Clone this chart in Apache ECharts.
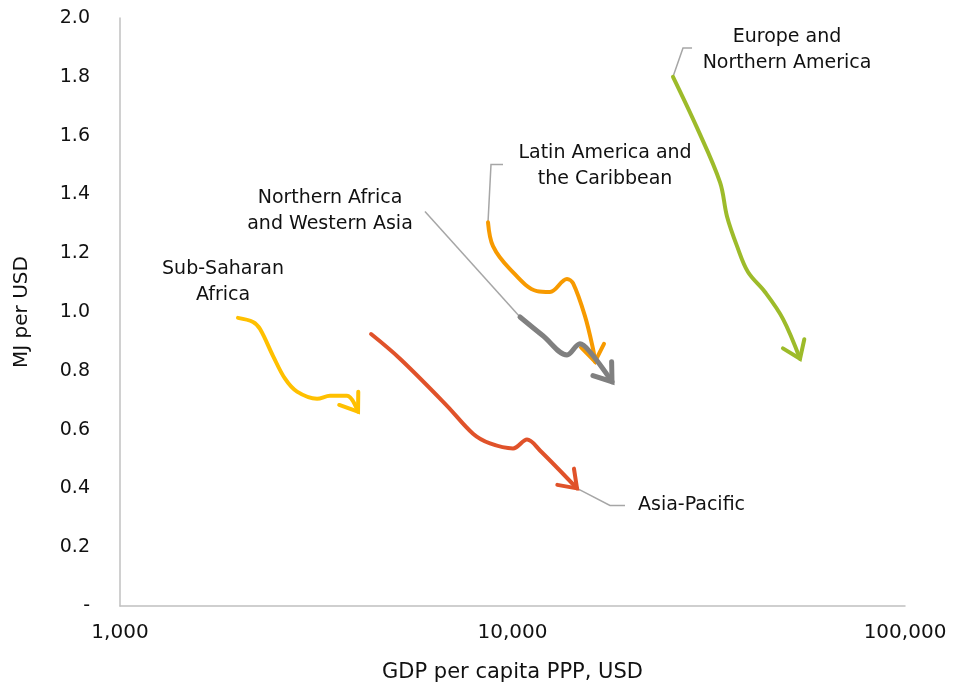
<!DOCTYPE html>
<html>
<head>
<meta charset="utf-8">
<script src="https://cdn.jsdelivr.net/npm/echarts@6/dist/echarts.min.js"></script>
<style>
html,body{margin:0;padding:0;background:#fff;}
#chart{width:960px;height:688px;}
</style>
</head>
<body>
<div id="chart"></div>
<script>
// ---- Data (GDP per capita PPP, USD  vs  MJ per USD) ----
const ssaGdp = [1998, 2182, 2274, 2453, 2633, 2825, 3177, 3428, 3787, 4041];
const ssaMj  = [0.980, 0.966, 0.942, 0.851, 0.773, 0.729, 0.705, 0.715, 0.715, 0.661];

const apGdp = [4362, 5169, 6810, 7933, 8764, 10030, 10888, 11750, 14600];
const apMj  = [0.925, 0.841, 0.681, 0.586, 0.553, 0.536, 0.566, 0.529, 0.400];

const laGdp = [8662, 8919, 9854, 11543, 12459, 13769, 14262, 15298, 16036, 16227];
const laMj  = [1.305, 1.224, 1.146, 1.071, 1.068, 1.112, 1.098, 0.986, 0.875, 0.831];

const nawaGdp = [10450, 11960, 13769, 14858, 15756, 17925];
const nawaMj  = [0.983, 0.919, 0.854, 0.892, 0.864, 0.763];

const enaGdp = [25640, 29512, 33790, 35200, 37330, 39810, 43980, 48900, 54020];
const enaMj  = [1.800, 1.627, 1.441, 1.325, 1.224, 1.136, 1.068, 0.976, 0.841];

const regionNames = ['Sub-Saharan Africa', 'Asia-Pacific', 'Latin America and the Caribbean',
  'Northern Africa and Western Asia', 'Europe and Northern America'];

const yTicks = [0, 0.2, 0.4, 0.6, 0.8, 1.0, 1.2, 1.4, 1.6, 1.8, 2.0];
const xTicks = [1000, 10000, 100000];

// Annotation labels (text + anchor in data units)
const labelTexts = ['Sub-Saharan\nAfrica', 'Asia-Pacific', 'Latin America and\nthe Caribbean',
  'Northern Africa\nand Western Asia', 'Europe and\nNorthern America'];
const labelGdp = [1830, 20880, 17210, 3428, 50050];
const labelMj  = [1.102, 0.342, 1.495, 1.342, 1.891];

// Leader line elbow points (data units), joined to curve start / end
const leaderAP   = {gdp: [17714, 19350], mj: [0.342, 0.342]};
const leaderLA   = {gdp: [8815, 9459], mj: [1.502, 1.502]};
const leaderNAWA = {gdp: [5984], mj: [1.342]};
const leaderENA  = {gdp: [27190, 28670], mj: [1.898, 1.898]};

const FONT = '"DejaVu Sans", sans-serif';
const TXT = '#111111';
const colors = ['#FFC000', '#E0522A', '#F79A00', '#808080', '#9DBB2A'];
const widths = [4, 4, 4, 5, 4];

function zip(xs, ys) { return xs.map((x, i) => [x, ys[i]]); }

function lineSeries(name, xs, ys, color, w) {
  return {
    name: name, type: 'line', data: zip(xs, ys), smooth: 0.35, showSymbol: false,
    symbol: 'none', lineStyle: {color: color, width: w, cap: 'round', join: 'round'}, z: 3, silent: true
  };
}

function arrowSeries(xs, ys, color, w) {
  const n = xs.length;
  return {
    type: 'custom', silent: true, z: 3,
    data: [[xs[n - 2], ys[n - 2], xs[n - 1], ys[n - 1]]],
    encode: {x: [0, 2], y: [1, 3]},
    renderItem: function (params, api) {
      const p0 = api.coord([api.value(0), api.value(1)]);
      const p1 = api.coord([api.value(2), api.value(3)]);
      const a = Math.atan2(p1[1] - p0[1], p1[0] - p0[0]);
      const L = 20, h = 0.62;
      const w1 = [p1[0] - L * Math.cos(a - h), p1[1] - L * Math.sin(a - h)];
      const w2 = [p1[0] - L * Math.cos(a + h), p1[1] - L * Math.sin(a + h)];
      return {type: 'polyline', shape: {points: [w1, p1, w2]},
        style: {stroke: color, lineWidth: w, fill: null, lineJoin: 'miter', lineCap: 'round'}};
    }
  };
}

function leaderSeries(points) {
  return {
    type: 'custom', silent: true, z: 2,
    data: points,
    renderItem: function (params, api) {
      if (params.dataIndex !== 0) return null;
      const pts = points.map(p => api.coord(p));
      return {type: 'polyline', shape: {points: pts},
        style: {stroke: '#A6A6A6', lineWidth: 1.5, fill: null}};
    }
  };
}

const n = (a) => a.length;
const leaders = [
  [[apGdp[n(apGdp) - 1], apMj[n(apMj) - 1]]].concat(zip(leaderAP.gdp, leaderAP.mj)),
  [[laGdp[0], laMj[0]]].concat(zip(leaderLA.gdp, leaderLA.mj)),
  zip(leaderNAWA.gdp, leaderNAWA.mj).concat([[nawaGdp[0], nawaMj[0]]]),
  [[enaGdp[0], enaMj[0]]].concat(zip(leaderENA.gdp, leaderENA.mj))
];

const labelSeries = {
  type: 'custom', silent: true, z: 4,
  data: zip(labelGdp, labelMj),
  renderItem: function (params, api) {
    const i = params.dataIndex;
    const p = api.coord([api.value(0), api.value(1)]);
    const isLeft = labelTexts[i] === 'Asia-Pacific';
    return {type: 'text', style: {text: labelTexts[i], x: p[0], y: p[1],
      align: isLeft ? 'left' : 'center', verticalAlign: 'middle',
      fontFamily: FONT, fontSize: 19, lineHeight: 26, fill: TXT}};
  }
};

const allX = [ssaGdp, apGdp, laGdp, nawaGdp, enaGdp];
const allY = [ssaMj, apMj, laMj, nawaMj, enaMj];

const series = [];
leaders.forEach(l => series.push(leaderSeries(l)));
allX.forEach((xs, i) => {
  series.push(lineSeries(regionNames[i], xs, allY[i], colors[i], widths[i]));
  series.push(arrowSeries(xs, allY[i], colors[i], widths[i]));
});
series.push(labelSeries);

const chart = echarts.init(document.getElementById('chart'), null, {renderer: 'canvas'});
chart.setOption({
  animation: false,
  backgroundColor: '#ffffff',
  textStyle: {fontFamily: FONT},
  grid: {left: 120, right: 55, top: 18, bottom: 80, containLabel: false},
  xAxis: {
    type: 'log', logBase: 10, min: xTicks[0], max: xTicks[xTicks.length - 1],
    name: 'GDP per capita PPP, USD', nameLocation: 'middle', nameGap: 56,
    nameTextStyle: {fontFamily: FONT, fontSize: 21, color: TXT},
    axisLine: {show: true, lineStyle: {color: '#C0C0C0', width: 1.5}},
    axisTick: {show: false}, splitLine: {show: false}, minorTick: {show: false},
    axisLabel: {fontFamily: FONT, fontSize: 20, color: TXT, margin: 17,
      formatter: v => Math.round(v).toLocaleString('en-US')}
  },
  yAxis: {
    type: 'value', min: yTicks[0], max: yTicks[yTicks.length - 1], interval: 0.2,
    name: 'MJ per USD', nameLocation: 'middle', nameGap: 88, nameRotate: 90,
    nameTextStyle: {fontFamily: FONT, fontSize: 20, color: TXT},
    axisLine: {show: true, lineStyle: {color: '#C0C0C0', width: 1.5}},
    axisTick: {show: false}, splitLine: {show: false},
    axisLabel: {fontFamily: FONT, fontSize: 19, color: TXT, margin: 30,
      formatter: v => (Math.abs(v) < 1e-9 ? '-' : v.toFixed(1))}
  },
  series: series
});
</script>
</body>
</html>
